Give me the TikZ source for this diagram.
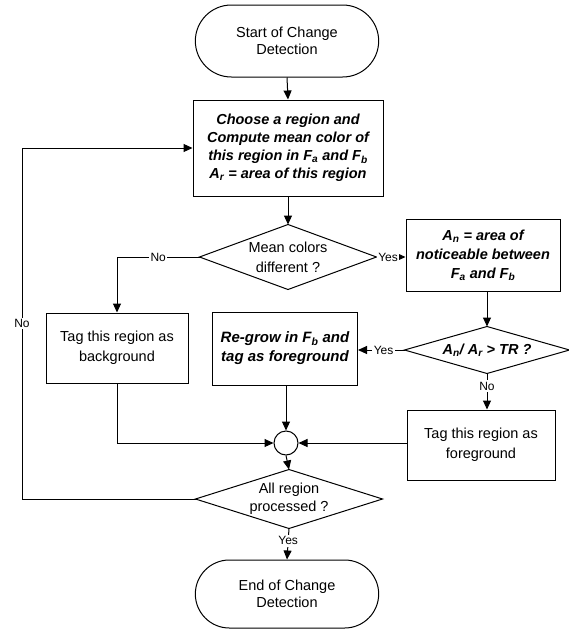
\documentclass[tikz,border=0pt]{standalone}
\usepackage{fontspec}
\setmainfont{Liberation Sans}
\usetikzlibrary{arrows.meta,shapes.misc}
\tikzset{
  every path/.style={line width=1pt},
  arr/.style={-{Triangle[length=9pt,width=8pt]}},
  term/.style={rounded rectangle, draw, minimum width=190pt, minimum height=72pt, align=center, font=\fontsize{14.5}{17}\selectfont},
  boxp/.style={rectangle, draw, align=center, inner sep=0pt, font=\fontsize{14.5}{20}\selectfont},
  boxb/.style={rectangle, draw, align=center, inner sep=0pt, font=\fontsize{14.5}{18}\selectfont\bfseries\itshape},
  diaarea/.style={rectangle, inner sep=0pt, align=center},
  lab/.style={fill=white, inner sep=1.5pt, font=\fontsize{12}{14}\selectfont},
}
\begin{document}
\begin{tikzpicture}[x=1pt,y=-1pt]
\useasboundingbox (0,0) rectangle (568,632);
\node[term] (start) at (287,41) {Start of Change\\Detection};
\node[boxb, minimum width=190pt, minimum height=96pt] (b1) at (288,148)
  {Choose a region and\\Compute mean color of\\this region in F\textsubscript{a} and F\textsubscript{b}\\A\textsubscript{r} = area of this region};
\node[diaarea, minimum width=176pt, minimum height=64pt, font=\fontsize{14.5}{20}\selectfont] (d1) at (288,257) {Mean colors\\different ?};
\draw (d1.north) -- (d1.east) -- (d1.south) -- (d1.west) -- cycle;
\node[boxb, minimum width=154pt, minimum height=72pt, font=\fontsize{14.5}{19}\selectfont\bfseries\itshape] (b3) at (483,255)
  {A\textsubscript{n} = area of\\noticeable between\\F\textsubscript{a} and F\textsubscript{b}};
\node[diaarea, minimum width=164pt, minimum height=46pt, font=\fontsize{14.5}{16}\selectfont\bfseries\itshape] (d2) at (487,350)
  {A\textsubscript{n}/ A\textsubscript{r} > TR ?};
\draw (d2.north) -- (d2.east) -- (d2.south) -- (d2.west) -- cycle;
\node[boxb, minimum width=145pt, minimum height=73pt, font=\fontsize{15}{19}\selectfont\bfseries\itshape] (b4) at (285,348.5)
  {Re-grow in F\textsubscript{b} and\\tag as foreground};
\node[boxp, minimum width=142pt, minimum height=70pt] (b2) at (117,348)
  {Tag this region as\\background};
\node[boxp, minimum width=148pt, minimum height=70pt] (b5) at (481,445)
  {Tag this region as\\foreground};
\node[circle, draw, minimum size=24pt, inner sep=0pt] (c) at (286,443) {};
\node[diaarea, minimum width=186pt, minimum height=58pt, font=\fontsize{14.5}{18}\selectfont] (d3) at (289,499) {All region\\processed ?};
\draw (d3.north) -- (d3.east) -- (d3.south) -- (d3.west) -- cycle;
\node[term, minimum height=68pt] (end) at (287,594) {End of Change\\Detection};
\coordinate (lx1) at (22,499);
\coordinate (lx2) at (22,148);
% connectors
\draw[arr] (start.south) -- (b1.north);
\draw[arr] (b1.south) -- (d1.north);
\draw[arr] (d1.west) -- node[lab]{No} (b2.north |- d1.west) -- (b2.north);
\draw[arr] (d1.east) -- node[lab, pos=0.4]{Yes} (b3.west |- d1.east);
\draw[arr] (d2.north |- b3.south) -- (d2.north);
\draw[arr] (d2.west) -- node[lab, pos=0.45]{Yes} (b4.east |- d2.west);
\draw[arr] (d2.south) -- node[lab, pos=0.35]{No} (b5.north -| d2.south);
\draw[arr] (b2.south) -- (b2.south |- c.west) -- (c.west);
\draw[arr] (c.north |- b4.south) -- (c.north);
\draw[arr] (b5.west |- c.east) -- (c.east);
\draw[arr] (c.south) -- (d3.north);
\draw[arr] (d3.west) -- (lx1) -- node[lab, pos=0.5]{No} (lx2) -- (b1.west);
\draw[arr] (d3.south) -- node[lab, pos=0.4]{Yes} (end.north);
\end{tikzpicture}
\end{document}
